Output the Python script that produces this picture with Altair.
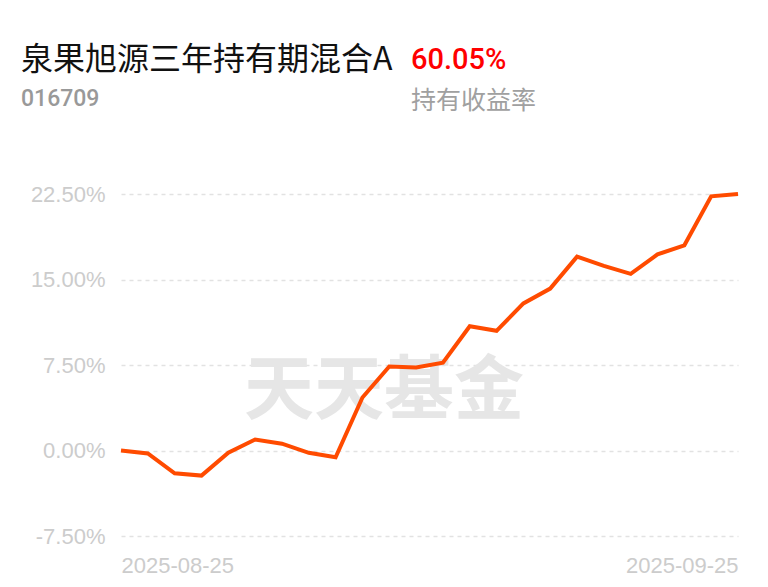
import altair as alt
import pandas as pd

dates = ["2025-08-25", "2025-08-26", "2025-08-27", "2025-08-28", "2025-08-29",
         "2025-09-01", "2025-09-02", "2025-09-03", "2025-09-04", "2025-09-05",
         "2025-09-08", "2025-09-09", "2025-09-10", "2025-09-11", "2025-09-12",
         "2025-09-15", "2025-09-16", "2025-09-17", "2025-09-18", "2025-09-19",
         "2025-09-22", "2025-09-23", "2025-09-24", "2025-09-25"]
returns = [0.0, -0.26, -2.0, -2.2, -0.2, 0.96, 0.6, -0.2, -0.6, 4.65,
           7.37, 7.28, 7.7, 10.9, 10.5, 12.9, 14.2, 17.0, 16.2, 15.5,
           17.2, 18.0, 22.3, 22.5]
y_ticks = [-7.5, 0.0, 7.5, 15.0, 22.5]
x_ticks = ["2025-08-25", "2025-09-25"]

fund_name = "泉果旭源三年持有期混合A"
fund_code = "016709"
holding_return = "60.05%"
holding_label = "持有收益率"
watermark = "天天基金"

df = pd.DataFrame({"date": dates, "ret": returns})

W, H = 617, 342

x_enc = alt.X("date:O", sort=None,
              scale=alt.Scale(type="point", padding=0),
              axis=alt.Axis(values=x_ticks, labelFlush=True, labelAngle=0,
                            labelFontSize=22, labelColor="#cccccc",
                            labelFont="Liberation Sans", labelPadding=19,
                            ticks=False, domain=False, grid=False, title=None))
y_enc = alt.Y("ret:Q",
              scale=alt.Scale(domain=[-7.5, 22.5], nice=False, zero=False),
              axis=alt.Axis(values=y_ticks,
                            labelExpr="replace(format(datum.value, '.2f'), '\u2212', '-') + '%'",
                            labelFontSize=22, labelColor="#cccccc",
                            labelFont="Liberation Sans", labelPadding=16,
                            ticks=False, domain=False, grid=True,
                            gridColor="#e2e2e2", gridDash=[4, 4], gridWidth=1.5,
                            title=None))

def text_layer(txt, x, y, size, color, weight="normal", font="Noto Sans CJK SC", align="left"):
    return alt.Chart(pd.DataFrame({"t": [txt]})).mark_text(
        align=align, baseline="alphabetic", fontSize=size, color=color,
        fontWeight=weight, font=font
    ).encode(text="t:N", x=alt.value(x), y=alt.value(y))

wm = alt.Chart(pd.DataFrame({"t": [watermark]})).mark_text(
    align="center", baseline="middle", fontSize=70, fontWeight="bold",
    color="#e6e6e6", font="Noto Sans CJK SC"
).encode(text="t:N", x=alt.value(263), y=alt.value(199))

line = alt.Chart(df).mark_line(color="#ff4b00", strokeWidth=4, strokeJoin="miter").encode(
    x=x_enc, y=y_enc
)

t1 = text_layer(fund_name, 21 - 121, 70 - 194, 32, "#111111")
t2 = text_layer(holding_return, 411 - 121, 69 - 194, 29, "#ff0000", weight=500, font="Roboto")
t3 = text_layer(fund_code, 21 - 121, 106 - 194, 23, "#999999", weight=500, font="Roboto")
t4 = text_layer(holding_label, 411 - 121, 109 - 194, 25, "#a0a0a0")

chart = alt.layer(wm, line, t1, t2, t3, t4).properties(
    width=W, height=H,
    autosize=alt.AutoSizeParams(type="none"),
    padding={"left": 113, "top": 186, "right": 22, "bottom": 43},
    background="white"
).configure_view(stroke=None)

chart.save("out.html", embed_options={"renderer": "svg", "actions": False})
